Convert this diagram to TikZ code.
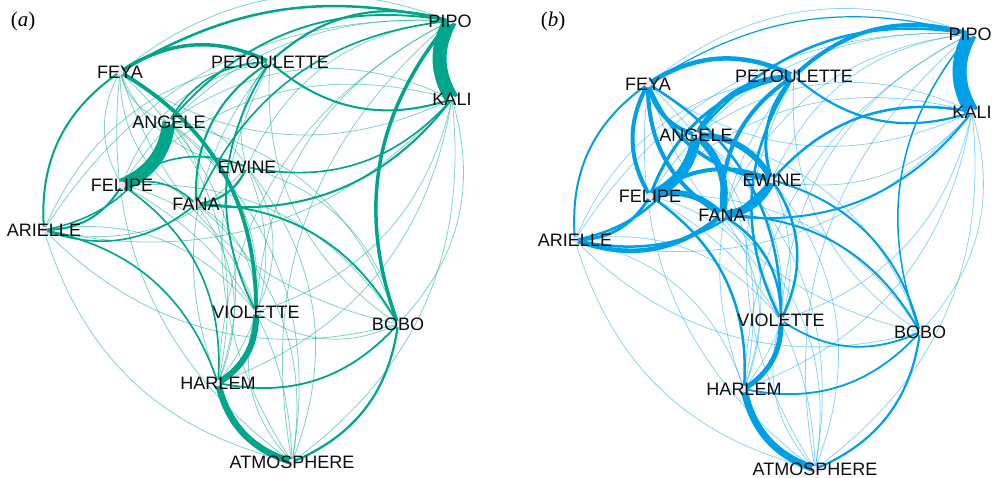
\documentclass[tikz,border=0pt]{standalone}
\usepackage{fontspec}
\setmainfont{Liberation Sans}
\newfontfamily\serifpanel{Liberation Serif}
\definecolor{cA}{HTML}{00A68C}
\definecolor{cB}{HTML}{00A0E9}
\definecolor{dotc}{HTML}{F3E6F3}
\begin{document}
\begin{tikzpicture}[x=1pt,y=-1pt,
  lbl/.style={font=\fontsize{18}{18}\selectfont, text=black!95, inner sep=0pt},
  plbl/.style={font=\serifpanel\fontsize{21}{21}\selectfont, inner sep=0pt},
  thina/.style={draw=cA, opacity=0.5, line width=0.8pt},
  thinb/.style={draw=cB, opacity=0.45, line width=0.8pt},
  dotn/.style={circle, fill=dotc, inner sep=0pt, minimum size=7pt}]
\useasboundingbox (0,0) rectangle (997,478);
% ---- panel (a) node points
\coordinate (api) at (450,21);
\coordinate (aka) at (452,99);
\coordinate (afy) at (120,72);
\coordinate (ape) at (270,62);
\coordinate (aan) at (169,122);
\coordinate (aew) at (247,167);
\coordinate (afl) at (122,185);
\coordinate (afa) at (196,204);
\coordinate (aar) at (44,230);
\coordinate (avi) at (256,312);
\coordinate (abo) at (398,324);
\coordinate (aha) at (218,383);
\coordinate (aat) at (292,462);
% ---- panel (b) node points
\coordinate (bpi) at (970,34);
\coordinate (bka) at (972,112);
\coordinate (bfy) at (648,84);
\coordinate (bpe) at (794,76);
\coordinate (ban) at (696,135);
\coordinate (bew) at (772,180);
\coordinate (bfl) at (650,196);
\coordinate (bfa) at (722,215);
\coordinate (bar) at (575,240);
\coordinate (bvi) at (781,320);
\coordinate (bbo) at (920,332);
\coordinate (bha) at (744,389);
\coordinate (bat) at (815,469);
% ---- thin edges (all pairs)
\foreach \p in {a,b} {
  \foreach \u [count=\i] in {pi,pe,ha,vi,fy,ar,at,bo,fa,ew,ka,fl,an} {
    \foreach \v [count=\j] in {pi,pe,ha,vi,fy,ar,at,bo,fa,ew,ka,fl,an} {
      \ifnum\j>\i \draw[thin\p] (\p\u) to[bend right=30] (\p\v); \fi
    }
  }
}
\newcommand\Ea[4][30]{\draw[cA, line width=#4pt] (a#2) to[bend right=#1] (a#3);}
\newcommand\Eb[4][30]{\draw[cB, line width=#4pt] (b#2) to[bend right=#1] (b#3);}
% ---- weighted edges (a)
\Ea{pi}{ka}{14}
\Ea{fl}{an}{13}
\Ea{ha}{vi}{6}
\Ea{ha}{at}{6.5}
\Ea{vi}{fy}{3.8}
\Ea{pe}{fy}{3.5}
\Ea{pi}{bo}{3.5}
\Ea[22]{pi}{fy}{2.5}
\Ea{pi}{pe}{2.2}
\Ea{pi}{an}{1.8}
\Ea{pe}{ka}{2}
\Ea{fa}{ka}{2}
\Ea{ew}{ka}{1.6}
\Ea{fa}{ew}{2.2}
\Ea{pe}{fa}{2}
\Ea{fa}{fl}{1.6}
\Ea{ew}{fl}{1.6}
\Ea{fy}{ar}{2}
\Ea{ar}{fl}{2}
\Ea{ar}{an}{1.5}
\Ea{ar}{fa}{1.6}
\Ea{ha}{ar}{1.6}
\Ea{ha}{bo}{1.8}
\Ea{at}{bo}{2.2}
\Ea{pe}{vi}{1.8}
\Ea{bo}{fa}{1.8}
\Ea{ha}{fl}{1.6}
\Ea{pe}{an}{1.6}
\Ea{pi}{fa}{1.6}
% ---- weighted edges (b)
\Eb{pi}{ka}{14}
\Eb{fl}{an}{10}
\Eb{fa}{an}{7}
\Eb{fa}{ew}{8}
\Eb{ew}{an}{6}
\Eb{fa}{fl}{6}
\Eb{ew}{fl}{4}
\Eb{fy}{an}{4}
\Eb{fy}{fl}{4}
\Eb{fy}{fa}{4}
\Eb{fy}{ew}{3.5}
\Eb{pe}{fy}{4.5}
\Eb{pe}{an}{4}
\Eb{pe}{fa}{4}
\Eb{pe}{fl}{3}
\Eb{pe}{ew}{3}
\Eb{pi}{pe}{4}
\Eb[24]{pi}{fy}{1.2}
\Eb{pi}{an}{2.5}
\Eb{ha}{vi}{5}
\Eb{ha}{at}{7}
\Eb{ar}{fa}{4.5}
\Eb{ar}{fl}{3}
\Eb{ar}{an}{2.5}
\Eb{fy}{ar}{2}
\Eb{ar}{ew}{2.5}
\Eb{ka}{ew}{2.5}
\Eb{pe}{ka}{2.2}
\Eb{fa}{ka}{2}
\Eb{bo}{fa}{2}
\Eb{bo}{ew}{2}
\Eb{vi}{bo}{1.8}
\Eb{ha}{bo}{1.8}
\Eb{at}{bo}{2.2}
\Eb{pi}{bo}{1.5}
\Eb{ha}{fl}{2.5}
\Eb{vi}{fa}{2.5}
\Eb{vi}{ew}{2.5}
\Eb{pe}{vi}{2.5}
\Eb{vi}{fy}{2.5}
% ---- node dots
\foreach \p in {a,b} {
  \foreach \u in {pi,pe,ha,vi,fy,ar,at,bo,fa,ew,ka,fl,an} {
    \node[dotn] (\p\u-d) at (\p\u) {};
  }
}
% ---- labels
\foreach \p in {a,b} {
  \node[lbl] (\p pi-l) at (\p pi) {PIPO};
  \node[lbl] (\p ka-l) at (\p ka) {KALI};
  \node[lbl] (\p fy-l) at (\p fy) {FEYA};
  \node[lbl] (\p pe-l) at (\p pe) {PETOULETTE};
  \node[lbl] (\p an-l) at (\p an) {ANGELE};
  \node[lbl] (\p ew-l) at (\p ew) {EWINE};
  \node[lbl] (\p fl-l) at (\p fl) {FELIPE};
  \node[lbl] (\p fa-l) at (\p fa) {FANA};
  \node[lbl] (\p ar-l) at (\p ar) {ARIELLE};
  \node[lbl] (\p vi-l) at (\p vi) {VIOLETTE};
  \node[lbl] (\p bo-l) at (\p bo) {BOBO};
  \node[lbl] (\p ha-l) at (\p ha) {HARLEM};
  \node[lbl] (\p at-l) at (\p at) {ATMOSPHERE};
}
\node[plbl] (pa) at (23,21) {(\textit{a})};
\node[plbl] (pb) at (553,21) {(\textit{b})};
\end{tikzpicture}
\end{document}
